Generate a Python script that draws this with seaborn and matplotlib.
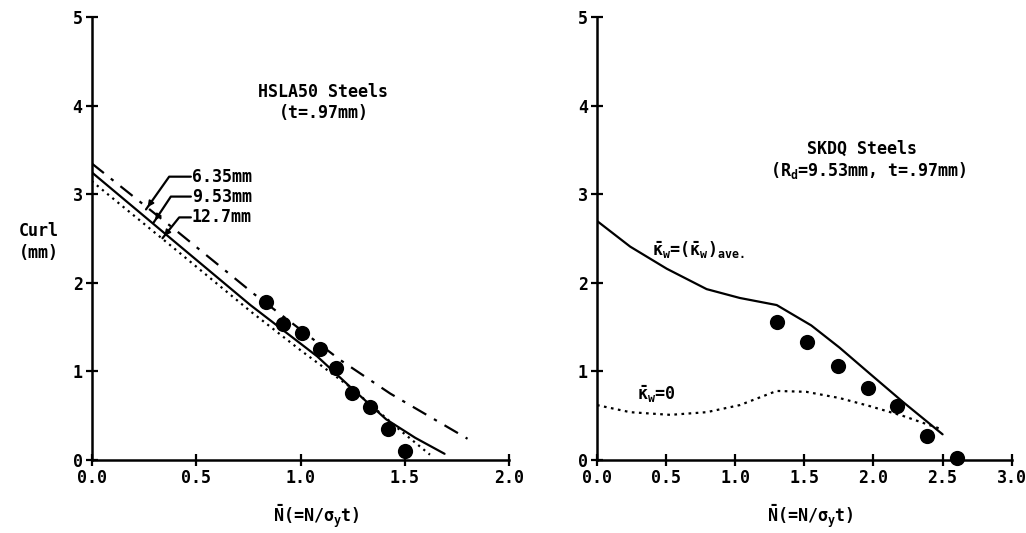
import matplotlib
matplotlib.use("Agg")
import matplotlib.pyplot as plt
import seaborn as sns
import numpy as np
import pandas as pd

# ---------------- data ----------------
# Left panel: HSLA50 steels
left_dots_x = [0.835, 0.918, 1.008, 1.091, 1.172, 1.245, 1.333, 1.418, 1.502]
left_dots_y = [1.78, 1.54, 1.43, 1.25, 1.04, 0.76, 0.60, 0.35, 0.10]

r635_x = [0.0, 0.4, 0.78, 1.19, 1.43, 1.8]
r635_y = [3.35, 2.60, 1.87, 1.13, 0.75, 0.24]

r953_x = [0.0, 0.4, 0.76, 1.08, 1.25, 1.41, 1.55, 1.69]
r953_y = [3.25, 2.46, 1.75, 1.17, 0.80, 0.46, 0.25, 0.07]

r127_x = [0.0, 0.4, 0.76, 1.0, 1.24, 1.48, 1.62]
r127_y = [3.15, 2.38, 1.68, 1.24, 0.82, 0.33, 0.06]

left_labels = ["6.35mm", "9.53mm", "12.7mm"]

# Right panel: SKDQ steels
ave_x = [0.0, 0.24, 0.505, 0.793, 1.033, 1.30, 1.55, 1.754, 1.97, 2.21, 2.50]
ave_y = [2.70, 2.41, 2.16, 1.93, 1.83, 1.75, 1.52, 1.27, 0.98, 0.66, 0.29]

zero_x = [0.0, 0.24, 0.53, 0.793, 1.033, 1.30, 1.514, 1.754, 1.97, 2.21, 2.45, 2.49]
zero_y = [0.62, 0.54, 0.51, 0.54, 0.62, 0.78, 0.77, 0.70, 0.61, 0.50, 0.37, 0.35]

right_dots_x = [1.305, 1.519, 1.742, 1.958, 2.17, 2.384, 2.607]
right_dots_y = [1.56, 1.33, 1.06, 0.81, 0.61, 0.27, 0.02]

y_ticks = [0, 1, 2, 3, 4, 5]
left_xticks = [0.0, 0.5, 1.0, 1.5, 2.0]
right_xticks = [0.0, 0.5, 1.0, 1.5, 2.0, 2.5, 3.0]

# ---------------- style ----------------
sns.set_style("ticks")
FONT = "DejaVu Sans Mono"
plt.rcParams["font.family"] = [FONT]
plt.rcParams["font.weight"] = "bold"
plt.rcParams["text.color"] = "black"
plt.rcParams["axes.labelcolor"] = "black"
plt.rcParams["mathtext.fontset"] = "custom"
plt.rcParams["mathtext.rm"] = "DejaVu Sans Mono:bold"
plt.rcParams["mathtext.it"] = "DejaVu Sans Mono:bold"
plt.rcParams["mathtext.bf"] = "DejaVu Sans Mono:bold"
plt.rcParams["mathtext.tt"] = "DejaVu Sans Mono:bold"

W, H = 1026, 533
fig = plt.figure(figsize=(W / 100, H / 100), dpi=100)
bottom = (H - 460) / H
height = (460 - 17.3) / H
axL = fig.add_axes([91.7 / W, bottom, (509.3 - 91.7) / W, height])
axR = fig.add_axes([597.0 / W, bottom, (1011.7 - 597.0) / W, height])

lw = 1.6

def style_axis(ax, xlim, xticks, label_x_px):
    ax.set_xlim(*xlim)
    ax.set_ylim(0, 5)
    ax.set_xticks(xticks)
    ax.set_xticklabels([f"{t:.1f}" for t in xticks])
    ax.set_yticks(y_ticks)
    ax.set_yticklabels([str(t) for t in y_ticks])
    for s in ["top", "right"]:
        ax.spines[s].set_visible(False)
    for s in ["left", "bottom"]:
        ax.spines[s].set_linewidth(1.8)
        ax.spines[s].set_color("black")
    ax.tick_params(axis="both", direction="inout", length=9, width=1.6,
                   labelsize=12, colors="black", pad=2)
    for lab in ax.get_xticklabels() + ax.get_yticklabels():
        lab.set_fontweight("bold")
    ax.set_xlabel("")
    ax.set_ylabel("")
    ax.grid(False)
    fig.text(label_x_px / W, 1 - 516 / H, r"$\bar{N}$(=N/$\sigma_y$t)",
             fontsize=12, fontweight="bold", ha="center", va="center")

# ---------- left panel ----------
sns.lineplot(x=r635_x, y=r635_y, ax=axL, color="black", lw=lw,
             linestyle=(0, (7, 4, 1.5, 4)), sort=False)
sns.lineplot(x=r953_x, y=r953_y, ax=axL, color="black", lw=lw, sort=False)
sns.lineplot(x=r127_x, y=r127_y, ax=axL, color="black", lw=lw,
             linestyle=(0, (1, 2)), sort=False)
sns.scatterplot(x=left_dots_x, y=left_dots_y, ax=axL, color="black", s=120,
                edgecolor="black", linewidth=0, zorder=5)
style_axis(axL, (0, 2.0), left_xticks, 316)

# leader annotations
lead_pts = [((0.26, 2.83), (0.371, 3.20)),
            ((0.296, 2.68), (0.379, 2.975)),
            ((0.339, 2.505), (0.419, 2.74))]
for lab, (tip, bend) in zip(left_labels, lead_pts):
    axL.plot([tip[0], bend[0], 0.475], [tip[1], bend[1], bend[1]],
             color="black", lw=1.6)
    axL.annotate("", xy=tip, xytext=(tip[0] + (bend[0] - tip[0]) * 0.3,
                                      tip[1] + (bend[1] - tip[1]) * 0.3),
                 arrowprops=dict(arrowstyle="-|>", color="black", lw=1.2,
                                 mutation_scale=9))
    axL.text(0.48, bend[1], lab, fontsize=12, fontweight="bold",
             ha="left", va="center")

axL.text(1.11, 4.16, "HSLA50 Steels", fontsize=12, fontweight="bold",
         ha="center", va="center")
axL.text(1.11, 3.92, "(t=.97mm)", fontsize=12, fontweight="bold",
         ha="center", va="center")
fig.text(39 / W, 1 - 242 / H, "Curl\n(mm)", fontsize=12, fontweight="bold",
         ha="center", va="center", linespacing=1.3)

# ---------- right panel ----------
sns.lineplot(x=ave_x, y=ave_y, ax=axR, color="black", lw=lw, sort=False)
sns.lineplot(x=zero_x, y=zero_y, ax=axR, color="black", lw=lw,
             linestyle=(0, (1.2, 2)), sort=False)
sns.scatterplot(x=right_dots_x, y=right_dots_y, ax=axR, color="black", s=120,
                edgecolor="black", linewidth=0, zorder=5, clip_on=False)
style_axis(axR, (0, 3.0), right_xticks, 810)

axR.text(1.92, 3.51, "SKDQ Steels", fontsize=12, fontweight="bold",
         ha="center", va="center")
axR.text(1.96, 3.27, "(R$_d$=9.53mm, t=.97mm)", fontsize=12, fontweight="bold",
         ha="center", va="center")
axR.text(0.40, 2.37, r"$\bar{\kappa}_w$=($\bar{\kappa}_w$)$_{ave.}$", fontsize=12,
         fontweight="bold", ha="left", va="center")
axR.text(0.29, 0.74, r"$\bar{\kappa}_w$=0", fontsize=12, fontweight="bold",
         ha="left", va="center")

fig.savefig("out.png", dpi=100)
